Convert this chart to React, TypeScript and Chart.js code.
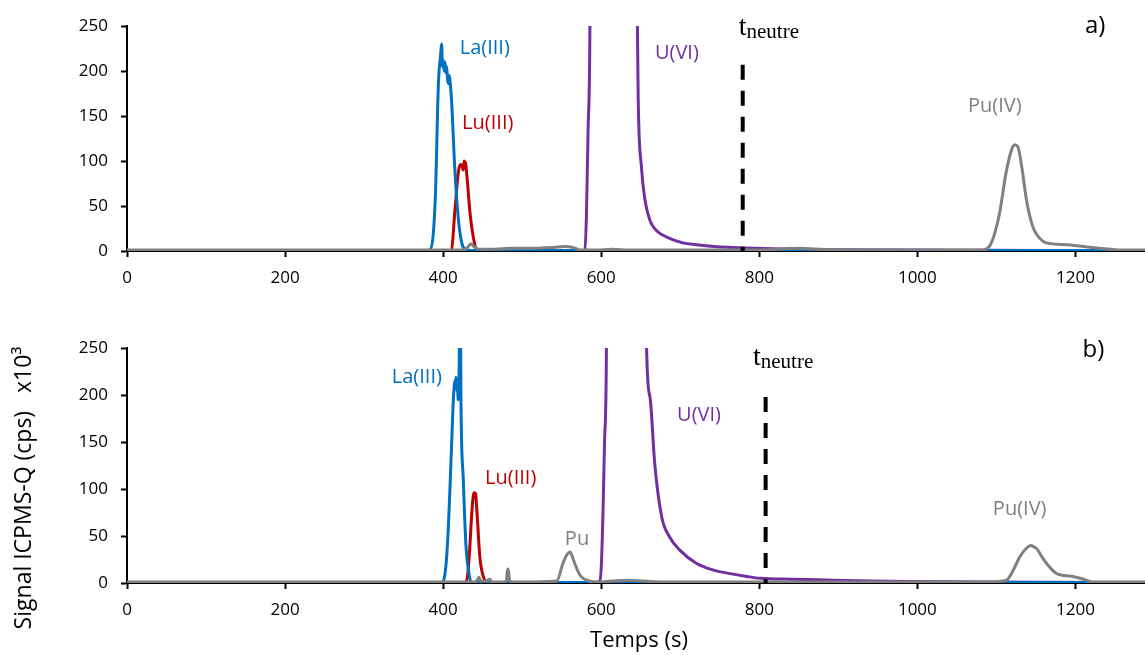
import React, { useEffect, useRef } from "react";
import { Chart, registerables } from "chart.js";

Chart.register(...registerables);

// ---------- data ----------
const xTickValues = [0, 200, 400, 600, 800, 1000, 1200];
const yTickValues = [0, 50, 100, 150, 200, 250];
const X_MAX = 1288;
const Y_MAX = 250;

// panel a)
const aPu = [[0,1],[376,1],[425,1],[431,4],[435,8],[439,5],[445,2],[465,2],[485,3],[515,3],[540,4],[554,5],[564,4],[574,1],[594,1],[614,2],[634,1],[693,1],[793,1],[852,3],[872,2],[991,1],[1081,1],[1091,5],[1104,42],[1112,86],[1119,112],[1123,118],[1127,116],[1132,94],[1138,57],[1146,27],[1155,14],[1163,9],[1189,7],[1230,3],[1260,1],[1288,1]];
const aLa = [[0,0.5],[376,0.5],[383,1],[390,57],[394,186],[397,220],[398,230],[399.2,205],[400.2,212],[401.2,200],[402.3,210],[403.3,198],[404.4,205],[405.4,192],[406.4,186],[407.7,195],[408.6,190],[410.6,168],[414.6,94],[419,38],[423.5,9],[427.5,2],[435,0.5],[1288,0.5]];
const aLu = [[0,0.3],[406,0.3],[410.6,1],[414.6,42],[419,86],[421.6,96],[423.5,95],[425.5,90],[426.5,100],[427.5,99],[428.5,97],[430.5,79],[434,42],[438,16],[442.4,1],[445.4,0.3],[832,0.3],[838,3],[844,0.3],[1288,0.3]];
const aU = [[0,0.5],[574,0.5],[579.4,1],[581.3,40],[583.3,131],[585.7,249],[588.3,800],[640,800],[644,400],[646.8,168],[650.8,94],[655.3,57],[661.7,34],[669.6,23],[686.5,14],[703.4,9],[720.3,7],[743,5],[763,4],[793,3],[842,2],[892,1.5],[991,1],[1288,0.5]];
const aNeutre = [[779,207],[779,0]];

// panel b)
const bPu = [[0,1],[396,1],[440,1],[443,3],[445.4,6],[447.4,2],[455,2],[459,4],[462,1],[475,1],[480,2],[481.1,12],[482.1,15],[483.1,10],[484.1,2],[495,1],[543.6,2],[551.6,21],[556.5,30],[560.5,33],[563.5,28],[566.4,21],[573,8.5],[581.3,3],[594,1],[614,2],[634,3],[654,2],[693,1],[1090,1],[1112.8,3],[1120.3,12],[1129.7,28],[1138,37],[1144,40],[1148,38],[1150.6,37],[1156,30],[1163.3,21],[1176,10],[1186,8],[1197,7],[1210,4],[1222.5,1],[1288,1]];
const bLa = [[0,0.5],[396,0.5],[400.2,2],[403.7,20],[406.4,56],[408.6,100],[410.6,145],[412.6,190],[413.6,205],[414.6,215],[415.6,210],[416.2,219],[417.1,205],[418.1,212],[419,195],[420.3,234],[421.2,300],[421.8,300],[422.5,198],[425.5,110],[428.9,39],[431.9,14],[436,1],[440.4,0.5],[1288,0.5]];
const bLu = [[0,0.3],[425.5,0.3],[428.9,1],[431.5,12],[433.8,39],[435.9,70],[438,92],[439.4,96],[441.1,95],[442.4,80],[443.2,70],[446.4,28],[450.7,7],[455.3,1],[460,0.3],[1288,0.3]];
const bU = [[0,0.5],[592,0.5],[598.2,2],[600.2,20],[602.2,74],[604.2,150],[606.6,251],[609,800],[654,800],[657.4,250],[661.7,198],[667.7,127],[676.6,70],[686.5,49],[699.4,35],[720.3,21],[741,14],[763,10],[784,7],[801,5],[842,4],[893,3],[942,2],[991,1.5],[1090,1],[1288,0.5]];
const bNeutre = [[808,198],[808,0]];

// ---------- styling / annotation config ----------
const COLORS = { La: "#0070C0", Lu: "#C00000", U: "#7030A0", Pu: "#808080", PuText: "#7F7F7F" };
const FONT = "'Open Sans'";
const SERIF = "'Liberation Serif'";

const aAnnot = {
  labels: [
    { text: "La(III)", x: 421, y: 219, color: COLORS.La },
    { text: "Lu(III)", x: 424, y: 135.6, color: COLORS.Lu },
    { text: "U(VI)", x: 668, y: 213, color: COLORS.U },
    { text: "Pu(IV)", x: 1064, y: 154, color: COLORS.PuText },
  ],
  t: { x: 774, y: 240 },
  corner: { text: "a)", x: 1212, y: 242 },
};
const bAnnot = {
  labels: [
    { text: "La(III)", x: 335, y: 212.8, color: COLORS.La },
    { text: "Lu(III)", x: 453, y: 105, color: COLORS.Lu },
    { text: "Pu", x: 554, y: 40.4, color: COLORS.PuText },
    { text: "U(VI)", x: 696, y: 172.3, color: COLORS.U },
    { text: "Pu(IV)", x: 1095.5, y: 72.3, color: COLORS.PuText },
  ],
  t: { x: 792, y: 232 },
  corner: { text: "b)", x: 1209, y: 240.4 },
};

const toPts = (a: number[][]) => a.map(([x, y]) => ({ x, y }));

function makeDatasets(pu: number[][], lu: number[][], la: number[][], u: number[][], neutre: number[][]) {
  const line = (data: number[][], color: string, width = 3) => ({
    data: toPts(data),
    showLine: true,
    borderColor: color,
    backgroundColor: color,
    borderWidth: width,
    pointRadius: 0,
    cubicInterpolationMode: "monotone" as const,
    fill: false,
  });
  return [
    { ...line(neutre, "#000", 4), borderDash: [15, 11], cubicInterpolationMode: "default" as const, tension: 0 },
    line(pu, COLORS.Pu),
    line(la, COLORS.La),
    line(lu, COLORS.Lu),
    line(u, COLORS.U),
  ];
}

function annotPlugin(annot: any, withAxisTitles: boolean) {
  return {
    id: "annot",
    afterDraw(chart: any) {
      const { ctx } = chart;
      const xs = chart.scales.x;
      const ys = chart.scales.y;
      ctx.save();
      ctx.textAlign = "left";
      ctx.textBaseline = "alphabetic";
      for (const l of annot.labels) {
        ctx.font = `20px ${FONT}`;
        ctx.fillStyle = l.color;
        ctx.fillText(l.text, xs.getPixelForValue(l.x), ys.getPixelForValue(l.y));
      }
      // t_neutre
      const tx = xs.getPixelForValue(annot.t.x);
      const ty = ys.getPixelForValue(annot.t.y);
      ctx.fillStyle = "#000";
      ctx.font = `28px ${SERIF}`;
      ctx.fillText("t", tx, ty);
      const tw = ctx.measureText("t").width;
      ctx.font = `21px ${SERIF}`;
      ctx.fillText("neutre", tx + tw, ty + 3);
      // corner label
      ctx.font = `24px ${FONT}`;
      ctx.fillText(annot.corner.text, xs.getPixelForValue(annot.corner.x), ys.getPixelForValue(annot.corner.y));
      if (withAxisTitles) {
        ctx.font = `22px ${FONT}`;
        ctx.textAlign = "center";
        ctx.textBaseline = "middle";
        ctx.fillText("Temps (s)", 639, 346);
        ctx.save();
        ctx.translate(24, 193);
        ctx.rotate(-Math.PI / 2);
        ctx.font = `23px ${FONT}`;
        ctx.fillText("Signal ICPMS-Q (cps)   x10\u00B3", 0, 0);
        ctx.restore();
      }
      ctx.restore();
    },
  };
}

function makeConfig(datasets: any[], padTop: number, xAxisHeight: number, plugin: any) {
  return {
    type: "scatter" as const,
    data: { datasets },
    options: {
      responsive: false,
      animation: false as const,
      devicePixelRatio: 1,
      layout: { padding: { top: padTop, left: 0, right: 0, bottom: 0 } },
      plugins: { legend: { display: false }, tooltip: { enabled: false } },
      events: [],
      scales: {
        x: {
          type: "linear" as const,
          min: 0,
          max: X_MAX,
          afterBuildTicks: (s: any) => {
            s.ticks = xTickValues.map((v) => ({ value: v }));
          },
          afterFit: (s: any) => {
            s.height = xAxisHeight;
          },
          ticks: {
            color: "#000",
            font: { family: FONT, size: 17 },
            padding: 11,
            maxRotation: 0,
            autoSkip: false,
            callback: (v: any) => String(v),
          },
          grid: { display: true, drawOnChartArea: false, drawTicks: true, tickLength: 6, tickColor: "#000", tickWidth: 2, color: "#000" },
          border: { display: true, color: "#000", width: 2 },
        },
        y: {
          type: "linear" as const,
          min: 0,
          max: Y_MAX,
          afterBuildTicks: (s: any) => {
            s.ticks = yTickValues.map((v) => ({ value: v }));
          },
          afterFit: (s: any) => {
            s.width = 127;
          },
          ticks: { color: "#000", font: { family: FONT, size: 17 }, padding: 13, autoSkip: false, callback: (v: any) => String(v) },
          grid: { display: true, drawOnChartArea: false, drawTicks: true, tickLength: 6, tickColor: "#000", tickWidth: 2, color: "#000" },
          border: { display: true, color: "#000", width: 2 },
        },
      },
    },
    plugins: [plugin],
  };
}

export default function App() {
  const topRef = useRef<HTMLCanvasElement>(null);
  const botRef = useRef<HTMLCanvasElement>(null);

  useEffect(() => {
    const c1 = new Chart(
      topRef.current as HTMLCanvasElement,
      makeConfig(makeDatasets(aPu, aLu, aLa, aU, aNeutre), 26, 44, annotPlugin(aAnnot, false)) as any
    );
    const c2 = new Chart(
      botRef.current as HTMLCanvasElement,
      makeConfig(makeDatasets(bPu, bLu, bLa, bU, bNeutre), 53, 72, annotPlugin(bAnnot, true)) as any
    );
    return () => {
      c1.destroy();
      c2.destroy();
    };
  }, []);

  return (
    <div style={{ position: "fixed", left: 0, top: 0, width: 1145, height: 655, background: "#fff" }}>
      <canvas ref={topRef} width={1145} height={295} style={{ position: "absolute", left: 0, top: 0, width: 1145, height: 295 }} />
      <canvas ref={botRef} width={1145} height={360} style={{ position: "absolute", left: 0, top: 295, width: 1145, height: 360 }} />
    </div>
  );
}
